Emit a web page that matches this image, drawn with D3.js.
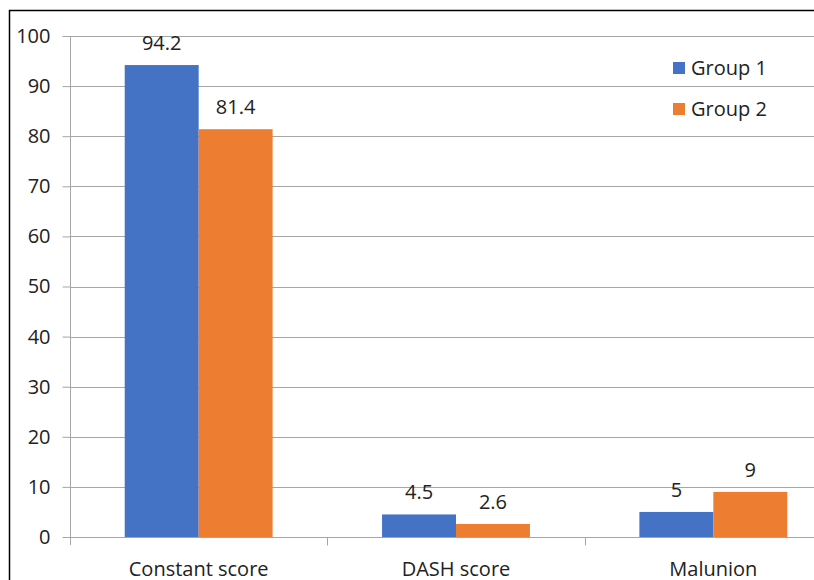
<!DOCTYPE html>
<html>
<head>
<meta charset="utf-8">
<script src="https://cdn.jsdelivr.net/npm/d3@7/dist/d3.min.js"></script>
<style>
  html, body { margin: 0; padding: 0; background: #fff; }
  svg { display: block; font-family: "Open Sans", "Noto Sans", sans-serif; }
</style>
</head>
<body>
<svg id="chart" width="814" height="580"></svg>
<script>
// Outcome measures by group
const categories = ["Constant score", "DASH score", "Malunion"];
const groups = ["Group 1", "Group 2"];
const group1Values = [94.2, 4.5, 5];
const group2Values = [81.4, 2.6, 9];
const yTicks = [0, 10, 20, 30, 40, 50, 60, 70, 80, 90, 100];
const colors = ["#4472c4", "#ed7d31"];

const seriesValues = [group1Values, group2Values];
const svg = d3.select("#chart");
const textColor = "#222";
const fontSize = "20px";

// Plot region (the category axis runs past the right edge of the frame)
const plotLeft = 70, plotRight = 842, plotTop = 36, plotBottom = 537;

const y = d3.scaleLinear().domain([0, 100]).range([plotBottom, plotTop]);
const x0 = d3.scaleBand().domain(categories).range([plotLeft, plotRight]).padding(0);
const x1 = d3.scaleBand().domain(groups).range([0, x0.bandwidth()]).paddingOuter(0.74).paddingInner(0);

// Outer frame
svg.append("path")
  .attr("d", "M9.5,580 V10.5 H814")
  .attr("fill", "none")
  .attr("stroke", "#000")
  .attr("stroke-width", 1.5);

// Horizontal gridlines
svg.append("g")
  .selectAll("line")
  .data(yTicks.filter(d => d > 0))
  .join("line")
  .attr("x1", plotLeft)
  .attr("x2", 814)
  .attr("y1", d => Math.round(y(d)) + 0.5)
  .attr("y2", d => Math.round(y(d)) + 0.5)
  .attr("stroke", "#a6a6a6")
  .attr("stroke-width", 1);

// Y axis
const yAxis = svg.append("g")
  .attr("transform", `translate(${plotLeft + 0.5},0)`)
  .call(d3.axisLeft(y).tickValues(yTicks).tickSize(8).tickPadding(12).tickFormat(d3.format("d")));
yAxis.select(".domain").attr("stroke", "#a6a6a6").attr("d", `M0,${plotTop} V${plotBottom + 8}`);
yAxis.selectAll(".tick line").attr("stroke", "#a6a6a6");
yAxis.selectAll(".tick text")
  .attr("fill", textColor)
  .style("font-size", fontSize)
  .style("font-family", "'Open Sans', sans-serif");

// X axis baseline and category dividers
const xAxis = svg.append("g")
  .attr("transform", `translate(0,${Math.round(y(0)) + 0.5})`);
xAxis.append("line")
  .attr("x1", plotLeft).attr("x2", 814)
  .attr("stroke", "#a6a6a6");
xAxis.selectAll(".divider")
  .data(categories.slice(1))
  .join("line")
  .attr("class", "divider")
  .attr("x1", d => Math.round(x0(d)) + 0.5)
  .attr("x2", d => Math.round(x0(d)) + 0.5)
  .attr("y1", 0).attr("y2", 8)
  .attr("stroke", "#a6a6a6");
xAxis.selectAll(".cat")
  .data(categories)
  .join("text")
  .attr("class", "cat")
  .attr("x", d => x0(d) + x0.bandwidth() / 2)
  .attr("y", 38)
  .attr("text-anchor", "middle")
  .attr("fill", textColor)
  .style("font-size", fontSize)
  .text(d => d);

// Bars
const rows = categories.map((c, i) => ({
  category: c,
  values: groups.map((g, j) => ({ group: g, value: seriesValues[j][i], color: colors[j] }))
}));

const catG = svg.append("g")
  .selectAll("g")
  .data(rows)
  .join("g")
  .attr("transform", d => `translate(${x0(d.category)},0)`);

catG.selectAll("rect")
  .data(d => d.values)
  .join("rect")
  .attr("x", d => x1(d.group))
  .attr("width", x1.bandwidth())
  .attr("y", d => y(d.value))
  .attr("height", d => y(0) - y(d.value))
  .attr("fill", d => d.color);

// Value labels
catG.selectAll("text")
  .data(d => d.values)
  .join("text")
  .attr("x", d => x1(d.group) + x1.bandwidth() / 2)
  .attr("y", d => y(d.value) - 15)
  .attr("text-anchor", "middle")
  .attr("fill", textColor)
  .style("font-size", fontSize)
  .text(d => d.value);

// Legend
const legend = svg.append("g")
  .selectAll("g")
  .data(groups)
  .join("g")
  .attr("transform", (d, i) => `translate(673,${68 + i * 41})`);
legend.append("rect")
  .attr("x", 0).attr("y", -6)
  .attr("width", 12).attr("height", 12)
  .attr("fill", (d, i) => colors[i]);
legend.append("text")
  .attr("x", 18)
  .attr("y", 0)
  .attr("dy", "0.35em")
  .attr("fill", textColor)
  .style("font-size", fontSize)
  .text(d => d);
</script>
</body>
</html>
